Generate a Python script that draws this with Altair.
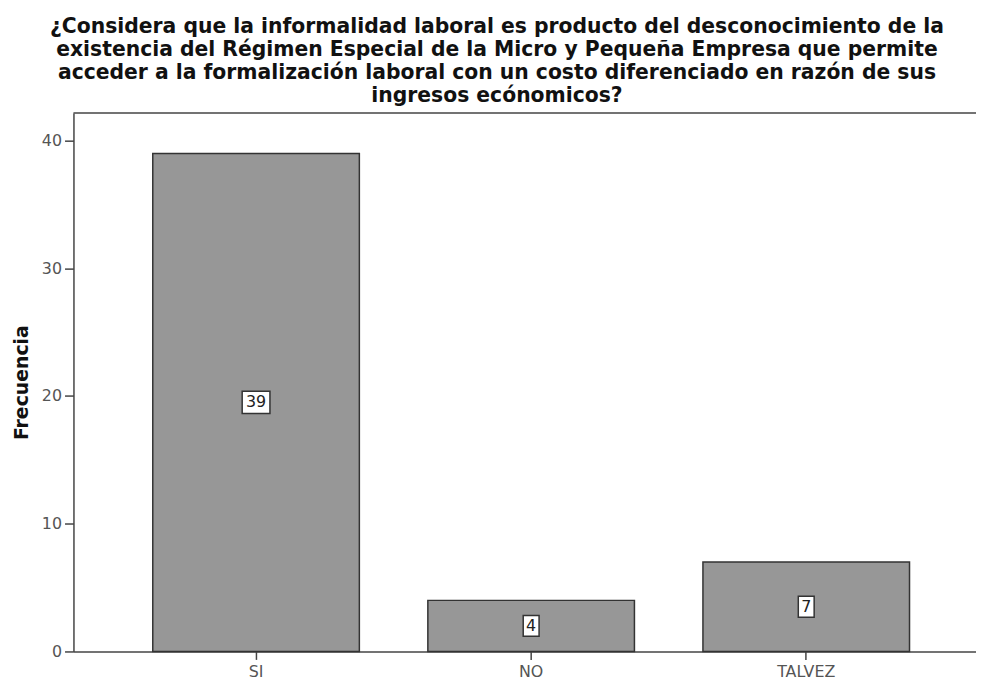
import altair as alt
import pandas as pd

categories = ["SI", "NO", "TALVEZ"]
frecuencias = [39, 4, 7]
y_ticks = [0, 10, 20, 30, 40]
title_lines = [
    "¿Considera que la informalidad laboral es producto del desconocimiento de la",
    "existencia del Régimen Especial de la Micro y Pequeña Empresa que permite",
    "acceder a la formalización laboral con un costo diferenciado en razón de sus",
    "ingresos ecónomicos?",
]
y_title = "Frecuencia"

df = pd.DataFrame({"cat": categories, "freq": frecuencias})

W, H = 910, 543
YMAX = 42.17
LINE = "#444444"
FONT = "DejaVu Sans"

x_scale = alt.Scale(paddingInner=0.249, paddingOuter=0.265, align=0.544)
y_scale = alt.Scale(domain=[0, YMAX], nice=False)
y_axis = alt.Axis(values=y_ticks)

base = alt.Chart(df).transform_calculate(mid="datum.freq / 2").encode(
    x=alt.X("cat:N", sort=categories, title=None, scale=x_scale,
            axis=alt.Axis(labelAngle=0)),
)

bars = base.mark_bar(fill="#979797", stroke="#333333", strokeWidth=1.5).encode(
    y=alt.Y("freq:Q", scale=y_scale, title=y_title, axis=y_axis),
)

boxes = base.transform_calculate(
    shp="datum.freq >= 10 ? 'M-1,-0.8H1V0.8H-1Z' : 'M-0.571,-0.75H0.571V0.75H-0.571Z'",
).mark_point(filled=True, fill="white", stroke="#333333", strokeWidth=1.5, opacity=1, size=784).encode(
    y=alt.Y("mid:Q", scale=y_scale, title=y_title, axis=y_axis),
    shape=alt.Shape("shp:N", scale=None, legend=None),
)

labels = base.mark_text(font=FONT, fontSize=16, color="#222222", baseline="middle", align="center").encode(
    y=alt.Y("mid:Q", scale=y_scale, title=y_title, axis=y_axis),
    text=alt.Text("freq:Q"),
)

top_rule = alt.Chart(pd.DataFrame({"k": [0]})).mark_rule(color=LINE, strokeWidth=1.5).encode(
    x=alt.value(0), x2=alt.value(W), y=alt.value(0)
)

chart = alt.layer(bars, boxes, labels, top_rule).properties(
    width=W,
    height=H,
    title=alt.TitleParams(text=title_lines, font=FONT, fontSize=20.5, fontWeight="bold",
                          color="#111111", anchor="middle", frame="group", dx=-28,
                          offset=6, lineHeight=23),
    padding={"left": 66, "top": 103, "right": 0, "bottom": 26},
    autosize=alt.AutoSizeParams(type="none"),
).configure(
    background="white"
).configure_view(
    stroke=None
).configure_axis(
    grid=False, domainColor=LINE, domainWidth=1.5, tickColor=LINE, tickWidth=1.5,
    labelFont=FONT, labelFontSize=16, labelColor="#555555",
    titleFont=FONT, titleFontSize=19, titleFontWeight="bold", titleColor="#111111",
).configure_axisX(
    tickSize=8, labelPadding=4,
).configure_axisY(
    tickSize=9, labelPadding=3, titleAngle=270, titleX=-46, titleY=H / 2,
    titleBaseline="alphabetic", titleAlign="center",
)

chart.save("out.html", embed_options={"renderer": "svg", "actions": False})
